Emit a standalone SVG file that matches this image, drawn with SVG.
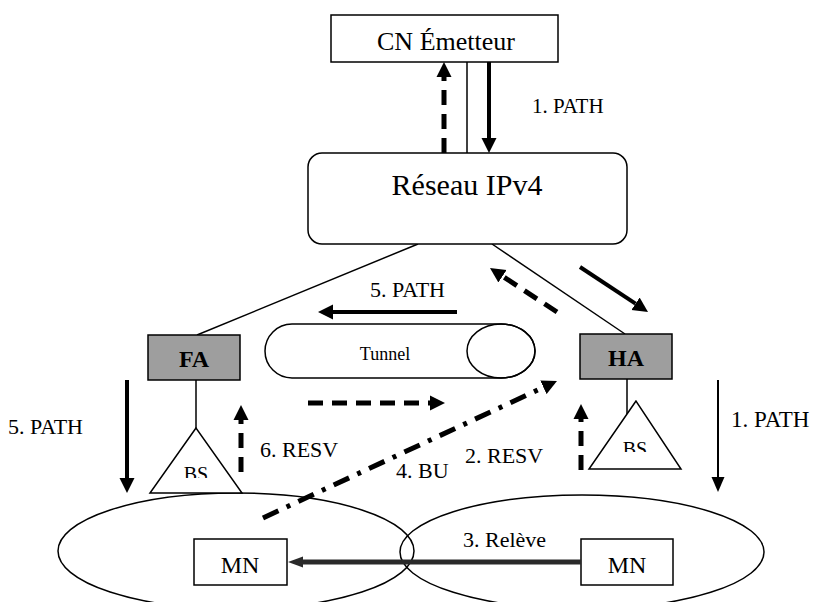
<svg xmlns="http://www.w3.org/2000/svg" width="818" height="602" viewBox="0 0 818 602">
<style>
  text { font-family: "Liberation Serif", "Times New Roman", serif; fill: #000; }
  .box { fill: #fff; stroke: #000; stroke-width: 1.5; }
  .agent { fill: #9e9e9e; stroke: #000; stroke-width: 1.5; }
  .thin { stroke: #000; stroke-width: 1.5; fill: none; }
  .solid { stroke: #000; stroke-width: 4; fill: none; }
  .solid2 { stroke: #000; stroke-width: 2; fill: none; }
  .dash { stroke: #000; stroke-width: 5; fill: none; stroke-dasharray: 15 9; }
  .dashdot { stroke: #000; stroke-width: 5; fill: none; stroke-dasharray: 17 9 4 9; }
  .relay { stroke: #2a2a2a; stroke-width: 5; fill: none; }
  .lbl { font-size: 22px; }
</style>
<defs>
  <marker id="ah" markerUnits="userSpaceOnUse" viewBox="0 -8 16 16" refX="0" refY="0" markerWidth="16" markerHeight="16" orient="auto">
    <path d="M0,-7.5 L15,0 L0,7.5 z" fill="#000"/>
  </marker>
  <marker id="ahs" markerUnits="userSpaceOnUse" viewBox="0 -8 16 16" refX="0" refY="0" markerWidth="16" markerHeight="16" orient="auto">
    <path d="M0,-6.5 L15,0 L0,6.5 z" fill="#000"/>
  </marker>
  <marker id="ahr" markerUnits="userSpaceOnUse" viewBox="0 -8 16 16" refX="0" refY="0" markerWidth="16" markerHeight="16" orient="auto">
    <path d="M0,-5.5 L15,0 L0,5.5 z" fill="#2a2a2a"/>
  </marker>
  <clipPath id="clipbs1"><rect x="150" y="440" width="92" height="38"/></clipPath>
  <clipPath id="clipbs2"><rect x="589" y="410" width="92" height="42"/></clipPath>
</defs>

<g id="zones">
  <ellipse cx="236" cy="551" rx="178" ry="58" class="thin"/>
  <ellipse cx="582" cy="552" rx="182" ry="57" class="thin"/>
</g>

<g id="links">
  <line x1="467" y1="62" x2="467" y2="153" class="thin"/>
  <line x1="197" y1="335" x2="418" y2="244" class="thin"/>
  <line x1="492" y1="244" x2="625" y2="334" class="thin"/>
  <line x1="196" y1="380" x2="196" y2="428" class="thin"/>
  <line x1="627" y1="379" x2="627" y2="415" class="thin"/>
</g>

<g id="cn">
  <rect x="331" y="15" width="227" height="47" class="box"/>
  <text x="446" y="50" font-size="26" text-anchor="middle">CN Émetteur</text>
</g>

<g id="reseau">
  <rect x="308" y="153" width="319" height="91" rx="14" class="box"/>
  <text x="467" y="195" font-size="30" text-anchor="middle">Réseau IPv4</text>
</g>

<g id="tunnel">
  <path d="M292,324 H501 A34,27 0 0 1 501,378 H292 A27,27 0 0 1 292,324 Z" class="box"/>
  <ellipse cx="501" cy="351" rx="34" ry="27" class="thin"/>
  <text x="385" y="360" font-size="18" text-anchor="middle">Tunnel</text>
</g>

<g id="fa">
  <rect x="148" y="335" width="92" height="45" class="agent"/>
  <text x="194" y="367" font-size="24" font-weight="bold" text-anchor="middle">FA</text>
</g>

<g id="ha">
  <rect x="580" y="334" width="92" height="45" class="agent"/>
  <text x="626" y="366" font-size="24" font-weight="bold" text-anchor="middle">HA</text>
</g>

<g id="bs-fa">
  <polygon points="196,428 150,493 242,493" class="box"/>
  <text x="196" y="481" font-size="20" text-anchor="middle" clip-path="url(#clipbs1)">BS</text>
</g>

<g id="bs-ha">
  <polygon points="636,401 589,469 681,469" class="box"/>
  <text x="635" y="456" font-size="20" text-anchor="middle" clip-path="url(#clipbs2)">BS</text>
</g>

<g id="mn-left">
  <rect x="194" y="539" width="93" height="46" class="box"/>
  <text x="240" y="573" font-size="24" text-anchor="middle">MN</text>
</g>

<g id="mn-right">
  <rect x="581" y="539" width="92" height="46" class="box"/>
  <text x="627" y="573" font-size="24" text-anchor="middle">MN</text>
</g>

<g id="connectors">
  <line x1="444" y1="153" x2="444" y2="77" class="dash" marker-end="url(#ah)"/>
  <line x1="489" y1="62" x2="489" y2="138" class="solid" marker-end="url(#ah)"/>
  <line x1="580" y1="267" x2="635.5" y2="303.7" class="solid" marker-end="url(#ah)"/>
  <line x1="557" y1="312" x2="502.5" y2="276.2" class="dash" marker-end="url(#ah)"/>
  <line x1="457" y1="312" x2="333" y2="312" class="solid" marker-end="url(#ah)"/>
  <line x1="308" y1="403" x2="430" y2="403" class="dash" stroke-dasharray="16 10" marker-end="url(#ah)"/>
  <line x1="263" y1="518" x2="543.4" y2="387.3" class="dashdot" marker-end="url(#ah)"/>
  <line x1="241" y1="472" x2="241" y2="420" class="dash" marker-end="url(#ah)"/>
  <line x1="581" y1="470" x2="581" y2="419" class="dash" marker-end="url(#ah)"/>
  <line x1="127" y1="380" x2="127" y2="478" class="solid" marker-end="url(#ah)"/>
  <line x1="718" y1="380" x2="718" y2="477" class="solid2" marker-end="url(#ahs)"/>
  <line x1="581" y1="562" x2="303" y2="562" class="relay" marker-end="url(#ahr)"/>
</g>

<g id="labels">
  <text x="532" y="113" font-size="21">1. PATH</text>
  <text x="370" y="297" class="lbl">5. PATH</text>
  <text x="8" y="434" class="lbl">5. PATH</text>
  <text x="260" y="457" class="lbl">6. RESV</text>
  <text x="396" y="478" class="lbl">4. BU</text>
  <text x="465" y="463" class="lbl">2. RESV</text>
  <text x="731" y="427" font-size="23">1. PATH</text>
  <text x="463" y="547" class="lbl">3. Relève</text>
</g>
</svg>
